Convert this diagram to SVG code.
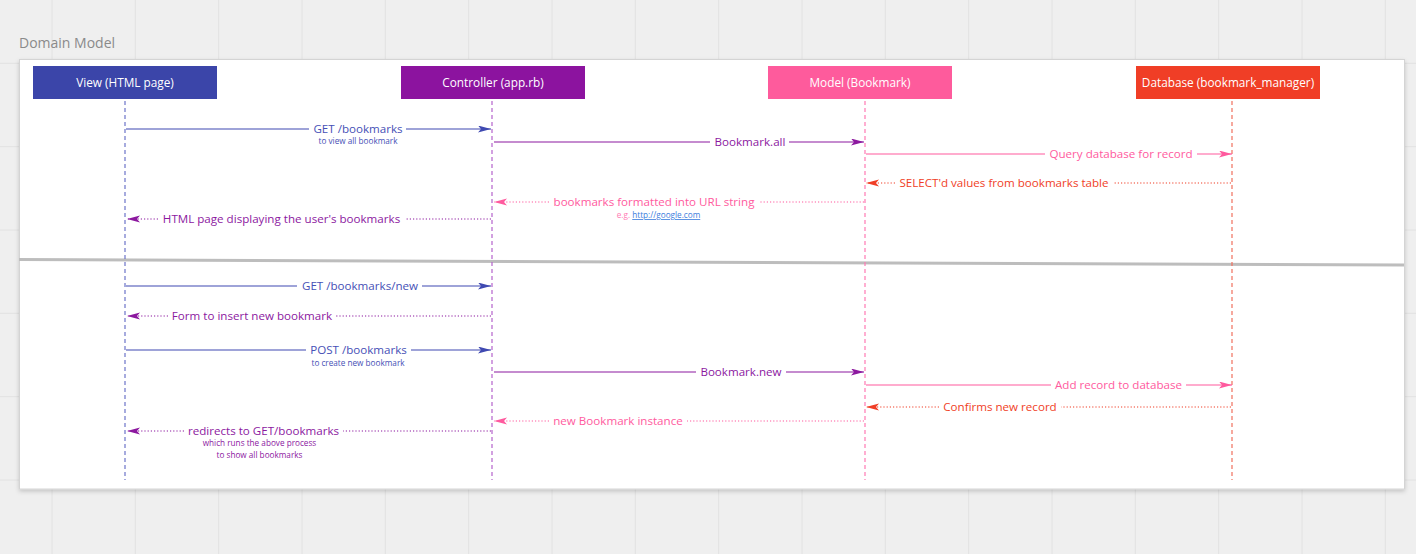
<svg xmlns="http://www.w3.org/2000/svg" width="1416" height="554" viewBox="0 0 1416 554">
<style>
text{font-family:"Open Sans","Noto Sans","Liberation Sans",sans-serif}
.hdr{font-size:11.8px;fill:#ffffff;text-anchor:middle}
.lbl{font-size:11.6px;text-anchor:middle}
.sub{font-size:8.2px;text-anchor:middle}
.grid line{stroke:#e2e2e2;stroke-width:1}
.life{stroke-width:1.2;stroke-dasharray:4 3;fill:none}
.msg{stroke-width:1.2;fill:none}
.dot{stroke-width:1.2;stroke-dasharray:1.2 2;fill:none}
.blue{stroke:#3f49b1}.purple{stroke:#8c189f}.pink{stroke:#ff5a9e}.red{stroke:#f03e26}
.tblue{fill:#4650b6}.tpurple{fill:#8c189f}.tpink{fill:#ff5a9e}.tred{fill:#f03e26}
</style>
<defs>
<marker id="ab" markerUnits="userSpaceOnUse" markerWidth="14" markerHeight="8" refX="13" refY="3.5" orient="auto"><path d="M0,0 L13,3.5 L0,7 L3,3.5 Z" fill="#3f49b1"/></marker>
<marker id="ap" markerUnits="userSpaceOnUse" markerWidth="14" markerHeight="8" refX="13" refY="3.5" orient="auto"><path d="M0,0 L13,3.5 L0,7 L3,3.5 Z" fill="#8c189f"/></marker>
<marker id="ak" markerUnits="userSpaceOnUse" markerWidth="14" markerHeight="8" refX="13" refY="3.5" orient="auto"><path d="M0,0 L13,3.5 L0,7 L3,3.5 Z" fill="#ff5a9e"/></marker>
<marker id="ar" markerUnits="userSpaceOnUse" markerWidth="14" markerHeight="8" refX="13" refY="3.5" orient="auto"><path d="M0,0 L13,3.5 L0,7 L3,3.5 Z" fill="#f03e26"/></marker>
<filter id="sh" x="-5%" y="-5%" width="110%" height="115%"><feDropShadow dx="0" dy="2" stdDeviation="2" flood-color="#000" flood-opacity="0.18"/></filter>
</defs>
<rect x="0" y="0" width="1416" height="554" fill="#efefef"/>
<g class="grid">
<line x1="52" y1="0" x2="52" y2="554"/><line x1="135.3" y1="0" x2="135.3" y2="554"/><line x1="218.7" y1="0" x2="218.7" y2="554"/><line x1="302" y1="0" x2="302" y2="554"/><line x1="385.3" y1="0" x2="385.3" y2="554"/><line x1="468.7" y1="0" x2="468.7" y2="554"/><line x1="552" y1="0" x2="552" y2="554"/><line x1="635.3" y1="0" x2="635.3" y2="554"/><line x1="718.7" y1="0" x2="718.7" y2="554"/><line x1="802" y1="0" x2="802" y2="554"/><line x1="885.3" y1="0" x2="885.3" y2="554"/><line x1="968.7" y1="0" x2="968.7" y2="554"/><line x1="1052" y1="0" x2="1052" y2="554"/><line x1="1135.3" y1="0" x2="1135.3" y2="554"/><line x1="1218.7" y1="0" x2="1218.7" y2="554"/><line x1="1302" y1="0" x2="1302" y2="554"/><line x1="1385.3" y1="0" x2="1385.3" y2="554"/>
<line x1="0" y1="63.3" x2="1416" y2="63.3"/><line x1="0" y1="146.7" x2="1416" y2="146.7"/><line x1="0" y1="230" x2="1416" y2="230"/><line x1="0" y1="313.3" x2="1416" y2="313.3"/><line x1="0" y1="396.7" x2="1416" y2="396.7"/><line x1="0" y1="480" x2="1416" y2="480"/>
</g>
<text x="19" y="48" font-size="14" fill="#8a8a8a">Domain Model</text>
<rect x="19.5" y="59.5" width="1385" height="429.5" fill="#ffffff" stroke="#d4d4d4" stroke-width="1" filter="url(#sh)"/>
<line x1="19" y1="259.5" x2="1404" y2="265" stroke="#bdbdbd" stroke-width="3"/>

<g id="view"><rect x="33" y="66" width="184" height="33" fill="#3b45a9"/><text class="hdr" x="125" y="87">View (HTML page)</text></g>
<g id="controller"><rect x="401" y="66" width="184" height="33" fill="#8c139f"/><text class="hdr" x="493" y="87">Controller (app.rb)</text></g>
<g id="model"><rect x="768" y="66" width="184" height="33" fill="#fe5b9c"/><text class="hdr" x="860" y="87">Model (Bookmark)</text></g>
<g id="database"><rect x="1136" y="66" width="184" height="33" fill="#f03e26"/><text class="hdr" x="1228" y="87">Database (bookmark_manager)</text></g>

<g id="lifelines">
<line class="life" x1="125" y1="101" x2="125" y2="480" stroke="#6d74c8"/>
<line class="life" x1="492" y1="101" x2="492" y2="480" stroke="#b563cc"/>
<line class="life" x1="865" y1="101" x2="865" y2="480" stroke="#ff7ab4"/>
<line class="life" x1="1232" y1="101" x2="1232" y2="480" stroke="#f0705e"/>
</g>

<g id="connectors">
<line class="msg blue" x1="126" y1="129" x2="309" y2="129"/><line class="msg blue" x1="406" y1="129" x2="491" y2="129" marker-end="url(#ab)"/>
<line class="msg purple" x1="494" y1="142" x2="710" y2="142"/><line class="msg purple" x1="789" y1="142" x2="864" y2="142" marker-end="url(#ap)"/>
<line class="msg pink" x1="866" y1="154" x2="1045" y2="154"/><line class="msg pink" x1="1197" y1="154" x2="1232" y2="154" marker-end="url(#ak)"/>
<line class="dot red" x1="1231" y1="183" x2="1113" y2="183"/><line class="dot red" x1="895" y1="183" x2="866" y2="183" marker-end="url(#ar)"/>
<line class="dot pink" x1="864" y1="202" x2="759" y2="202"/><line class="dot pink" x1="549" y1="202" x2="494" y2="202" marker-end="url(#ak)"/>
<line class="dot purple" x1="491" y1="219" x2="405" y2="219"/><line class="dot purple" x1="158" y1="219" x2="127" y2="219" marker-end="url(#ap)"/>
<line class="msg blue" x1="126" y1="286" x2="297" y2="286"/><line class="msg blue" x1="422" y1="286" x2="491" y2="286" marker-end="url(#ab)"/>
<line class="dot purple" x1="491" y1="316" x2="336" y2="316"/><line class="dot purple" x1="168" y1="316" x2="127" y2="316" marker-end="url(#ap)"/>
<line class="msg blue" x1="126" y1="350" x2="306" y2="350"/><line class="msg blue" x1="411" y1="350" x2="491" y2="350" marker-end="url(#ab)"/>
<line class="msg purple" x1="494" y1="372" x2="696" y2="372"/><line class="msg purple" x1="786" y1="372" x2="864" y2="372" marker-end="url(#ap)"/>
<line class="msg pink" x1="866" y1="385" x2="1051" y2="385"/><line class="msg pink" x1="1186" y1="385" x2="1232" y2="385" marker-end="url(#ak)"/>
<line class="dot red" x1="1231" y1="407" x2="1061" y2="407"/><line class="dot red" x1="939" y1="407" x2="866" y2="407" marker-end="url(#ar)"/>
<line class="dot pink" x1="864" y1="421" x2="687" y2="421"/><line class="dot pink" x1="549" y1="421" x2="494" y2="421" marker-end="url(#ak)"/>
<line class="dot purple" x1="491" y1="431" x2="343" y2="431"/><line class="dot purple" x1="184" y1="431" x2="127" y2="431" marker-end="url(#ap)"/>
</g>

<g id="labels">
<text class="lbl tblue" x="358" y="133">GET /bookmarks</text>
<text class="sub tblue" x="358" y="144">to view all bookmark</text>
<text class="lbl tpurple" x="750" y="146">Bookmark.all</text>
<text class="lbl tpink" x="1121" y="158">Query database for record</text>
<text class="lbl tred" x="1004" y="187">SELECT'd values from bookmarks table</text>
<text class="lbl tpink" x="654" y="206">bookmarks formatted into URL string</text>
<text class="sub" x="658.5" y="218"><tspan fill="#ff7ab4">e.g. </tspan><tspan fill="#3b7ddd" text-decoration="underline">http://google.com</tspan></text>
<text class="lbl tpurple" x="281.5" y="223">HTML page displaying the user's bookmarks</text>
<text class="lbl tblue" x="360" y="290">GET /bookmarks/new</text>
<text class="lbl tpurple" x="252" y="320">Form to insert new bookmark</text>
<text class="lbl tblue" x="358.5" y="354">POST /bookmarks</text>
<text class="sub tblue" x="358" y="366">to create new bookmark</text>
<text class="lbl tpurple" x="741" y="376">Bookmark.new</text>
<text class="lbl tpink" x="1118.5" y="389">Add record to database</text>
<text class="lbl tred" x="1000" y="411">Confirms new record</text>
<text class="lbl tpink" x="618" y="425">new Bookmark instance</text>
<text class="lbl tpurple" x="263.5" y="435">redirects to GET/bookmarks</text>
<text class="sub tpurple" x="259.5" y="446">which runs the above process</text>
<text class="sub tpurple" x="259.5" y="458">to show all bookmarks</text>
</g>
</svg>
